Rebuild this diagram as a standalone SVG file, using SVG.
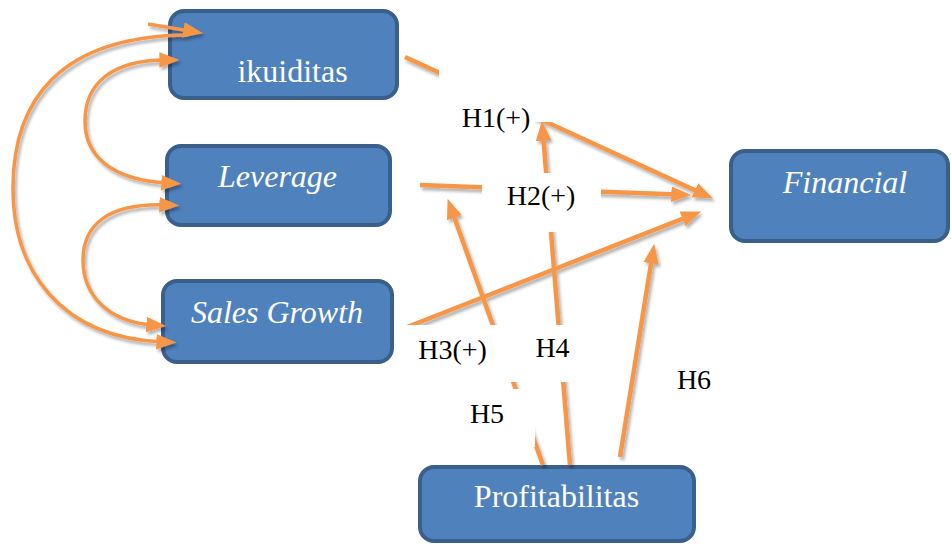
<svg xmlns="http://www.w3.org/2000/svg" width="951" height="544" viewBox="0 0 951 544">
<style>
.box{fill:#4f81bd;stroke:#3a5f8b;stroke-width:4}
.bt{font-family:'Liberation Serif','Tinos','DejaVu Serif',serif;font-size:32px;fill:#ffffff;text-anchor:middle}
.it{font-style:italic}
.lb{font-family:'Liberation Serif','Tinos','DejaVu Serif',serif;font-size:28px;fill:#000000;text-anchor:middle}
.ln{fill:none;stroke:#f79646;stroke-width:4.5}
.cv{fill:none;stroke:#f79646;stroke-width:3.5}
.wb{fill:#ffffff;stroke:none}
</style>
<defs>
<marker id="ah" markerUnits="userSpaceOnUse" markerWidth="20" markerHeight="16" viewBox="0 0 18 14" refX="6" refY="7" orient="auto-start-reverse">
<path d="M0,0 L18,7 L0,14 z" fill="#f79646"/>
</marker>
<filter id="sh" x="-10%" y="-10%" width="120%" height="120%">
<feDropShadow dx="2" dy="3" stdDeviation="1.5" flood-color="#000000" flood-opacity="0.3"/>
</filter>
</defs>
<g id="ikuiditas">
<rect class="box" x="170" y="11" width="227" height="87" rx="14"/>
<text class="bt" x="292.5" y="82" font-family="Liberation Serif, serif">ikuiditas</text>
</g>
<g id="leverage">
<rect class="box" x="167" y="146" width="223" height="79" rx="14"/>
<text class="bt it" x="277.5" y="187" font-family="Liberation Serif, serif">Leverage</text>
</g>
<g id="sales-growth">
<rect class="box" x="163" y="281" width="229" height="81" rx="14"/>
<text class="bt it" x="277" y="323" font-family="Liberation Serif, serif">Sales Growth</text>
</g>
<g id="financial">
<rect class="box" x="731" y="151" width="217" height="90" rx="14"/>
<text class="bt it" x="845" y="193" font-family="Liberation Serif, serif">Financial</text>
</g>
<g id="profitabilitas">
<rect class="box" x="420" y="467" width="274" height="74" rx="14"/>
<text class="bt" x="556.5" y="507" font-family="Liberation Serif, serif">Profitabilitas</text>
</g>
<g id="connectors" filter="url(#sh)">
<path class="cv" d="M163,342 C60,338 13,270 13,188 C13,100 60,36 188,35" marker-start="url(#ah)"/>
<path class="cv" d="M148,24 L190,31" marker-end="url(#ah)"/>
<path class="cv" d="M168,183 C110,180 85,155 85,121 C85,85 110,60 166,60" marker-start="url(#ah)" marker-end="url(#ah)"/>
<path class="cv" d="M153,325 C108,322 83,295 83,260 C83,225 108,203 166,205" marker-start="url(#ah)" marker-end="url(#ah)"/>
<path class="ln" d="M405,57 L701,193" marker-end="url(#ah)"/>
<path class="ln" d="M420,185 L678,194.6" marker-end="url(#ah)"/>
<path class="ln" d="M397,331 L688.8,216.4" marker-end="url(#ah)"/>
<path class="ln" d="M570,465 L543,134" marker-end="url(#ah)"/>
<path class="ln" d="M543,465 L452.1,211.3" marker-end="url(#ah)"/>
<path class="ln" d="M620,457 L652.1,256.8" marker-end="url(#ah)"/>
</g>
<g id="label-boxes">
<rect class="wb" x="439" y="64" width="120" height="58"/>
<rect class="wb" x="482" y="173" width="119" height="59"/>
<rect class="wb" x="396" y="325" width="184" height="57"/>
<rect class="wb" x="455" y="389" width="80" height="58"/>
</g>
<g id="labels">
<text class="lb" x="496" y="127" font-family="Liberation Serif, serif">H1(+)</text>
<text class="lb" x="541" y="205" font-family="Liberation Serif, serif">H2(+)</text>
<text class="lb" x="452.5" y="359" font-family="Liberation Serif, serif">H3(+)</text>
<text class="lb" x="552.5" y="357" font-family="Liberation Serif, serif">H4</text>
<text class="lb" x="487" y="423" font-family="Liberation Serif, serif">H5</text>
<text class="lb" x="694" y="389" font-family="Liberation Serif, serif">H6</text>
</g>
</svg>
